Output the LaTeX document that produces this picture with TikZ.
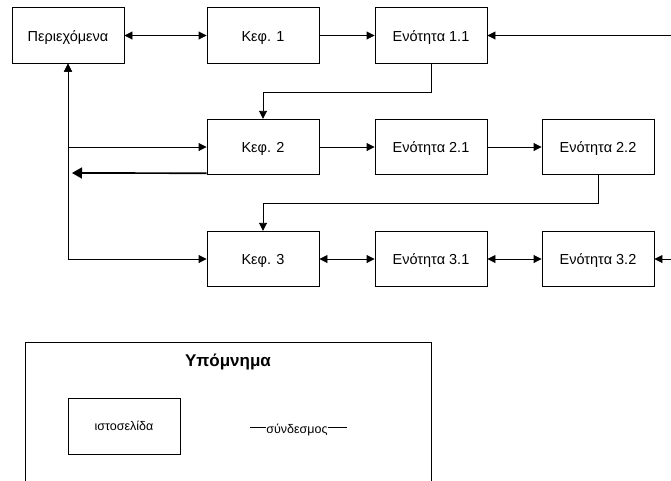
\documentclass[tikz,border=0pt]{standalone}
\usepackage{fontspec}
\setmainfont{Liberation Sans}
\usetikzlibrary{arrows.meta}
\begin{document}
\begin{tikzpicture}[x=1pt,y=-1pt,
  page/.style={draw, line width=0.9pt, minimum width=112pt, minimum height=55.5pt,
    inner sep=0pt, text height=11.5pt, text depth=0pt, font=\fontsize{14.5}{17}\selectfont},
  link/.style={line width=0.9pt, -{Triangle[length=8pt,width=8pt]}},
  dlink/.style={line width=0.9pt, {Triangle[length=8pt,width=8pt]}-{Triangle[length=8pt,width=8pt]}},
  backlink/.style={line width=1.7pt, -{Triangle[length=10pt,width=11pt]}},
  frame/.style={draw, line width=0.9pt, inner sep=0pt}]
\clip (0,0) rectangle (671,480);

% pages of the site
\node[page] (toc) at (68,35.5)  {Περιεχόμενα};
\node[page] (k1)  at (263,35.5) {Κεφ. 1};
\node[page] (e11) at (431,35.5) {Ενότητα 1.1};
\node[page] (k2)  at (263,147)  {Κεφ. 2};
\node[page] (e21) at (431,147)  {Ενότητα 2.1};
\node[page] (e22) at (598,147)  {Ενότητα 2.2};
\node[page] (k3)  at (263,259)  {Κεφ. 3};
\node[page] (e31) at (431,259)  {Ενότητα 3.1};
\node[page] (e32) at (598,259)  {Ενότητα 3.2};

% links coming in from the right margin
\coordinate (r1) at (671,35.5);
\coordinate (r3) at (671,259);
\coordinate (back) at (72,173);

% first row
\draw[dlink] (toc) -- (k1);
\draw[link] (k1) -- (e11);
\draw[link] (r1) -- (e11);
\draw[link] (e11.south) -- ++(0,29) -| (k2.north);

% second row
\draw[dlink] (toc.south) |- (k2.west);
\draw[link] (k2) -- (e21);
\draw[link] (e21) -- (e22);
\draw[backlink] ([yshift=2pt]k2.south west) -- (back);
\draw[link] (e22.south) -- ++(0,28) -| (k3.north);

% third row
\draw[dlink] (toc.south) |- (k3.west);
\draw[dlink] (k3) -- (e31);
\draw[dlink] (e31) -- (e32);
\draw[link] (r3) -- (e32);

% legend
\node[frame, minimum width=406pt, minimum height=170pt, anchor=north west] (legend) at (25,342) {};
\node[font=\bfseries\fontsize{17}{19}\selectfont] (ltitle) at (228,362) {Υπόμνημα};
\node[page, minimum height=56pt, text height=9pt, font=\fontsize{12.5}{15}\selectfont] (lpage) at (124,426) {ιστοσελίδα};
\node[inner sep=0pt, font=\fontsize{12.5}{15}\selectfont] (llink) at (297,430) {σύνδεσμος};
\coordinate (la) at (250,427);
\coordinate (lb) at (347,427);
\draw[line width=0.9pt] (la) -- (llink.west |- la);
\draw[line width=0.9pt] (llink.east |- lb) -- (lb);
\end{tikzpicture}
\end{document}
